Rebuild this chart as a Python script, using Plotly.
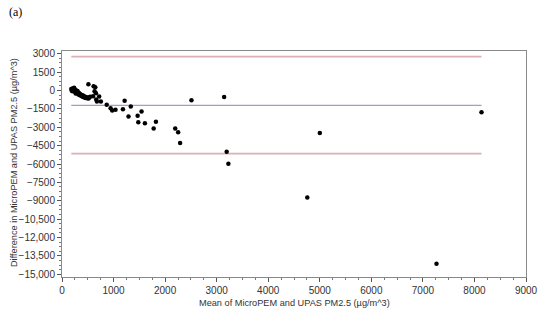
import plotly.graph_objects as go

# Bland-Altman data: mean of the two instruments vs difference
mean_vals = [180, 195, 205, 215, 225, 235, 245, 250, 260, 270, 280, 290, 300, 310, 320, 330,
             340, 350, 360, 370, 385, 400, 410, 420, 435, 450, 460, 475, 490, 500, 515, 530,
             545, 205, 190, 220, 265, 300, 240,
             512, 613, 645, 632, 659, 602, 664, 721, 678, 754, 867, 943, 974, 1038,
             1215, 1182, 1334, 1290, 1543, 1467, 1480, 1608, 1778, 1822, 2196, 2253, 2291,
             2511, 3145, 3194, 3227, 5001, 4758, 8137, 7264]
diff_vals = [120, 40, 170, -20, 90, 230, -60, 60, -120, 10, -180, -90, -250, -150, -320, -200,
             -380, -280, -420, -340, -480, -400, -530, -460, -580, -520, -620, -560, -640, -600, -660, -580,
             -520, -60, -20, 20, -250, -40, 130,
             513, 350, 269, -57, -220, -465, -742, -497, -905, -905, -1174, -1443, -1638, -1581,
             -848, -1524, -1312, -2127, -1720, -2070, -2584, -2665, -3105, -2560, -3105, -3400, -4295,
             -790, -540, -5004, -5982, -3480, -8729, -1769, -14132]

mean_diff = -1210
upper_loa = 2760
lower_loa = -5150

y_tick_vals = [3000, 1500, 0, -1500, -3000, -4500, -6000, -7500, -9000, -10500, -12000, -13500, -15000]
y_tick_text = ["3000", "1500", "0", "\u22121500", "\u22123000", "\u22124500", "\u22126000", "\u22127500",
               "\u22129000", "\u221210,500", "\u221212,000", "\u221213,500", "\u221215,000"]
x_tick_vals = [0, 1000, 2000, 3000, 4000, 5000, 6000, 7000, 8000, 9000]
x_tick_text = ["0", "1000", "2000", "3000", "4000", "5000", "6000", "7000", "8000", "9000"]

x_lo, x_hi = min(mean_vals), max(mean_vals)

fig = go.Figure()
fig.add_trace(go.Scatter(x=[x_lo, x_hi], y=[upper_loa, upper_loa], mode="lines",
                         line=dict(color="#dcb0b5", width=1.6), hoverinfo="skip"))
fig.add_trace(go.Scatter(x=[x_lo, x_hi], y=[lower_loa, lower_loa], mode="lines",
                         line=dict(color="#dcb0b5", width=1.6), hoverinfo="skip"))
fig.add_trace(go.Scatter(x=[x_lo, x_hi], y=[mean_diff, mean_diff], mode="lines",
                         line=dict(color="#9aa2c6", width=1.2), hoverinfo="skip"))
fig.add_trace(go.Scatter(x=mean_vals, y=diff_vals, mode="markers",
                         marker=dict(color="black", size=4.5)))

axis_font = dict(family="Liberation Sans, Arial, sans-serif", size=10, color="#333333")
title_font = dict(family="Liberation Sans, Arial, sans-serif", size=9.2, color="#333333")

fig.update_layout(
    width=550, height=321,
    margin=dict(l=62, r=14, t=51, b=44),
    paper_bgcolor="white", plot_bgcolor="white",
    showlegend=False,
    xaxis=dict(range=[0, 9000], tickvals=x_tick_vals, ticktext=x_tick_text,
               showgrid=False, zeroline=False, showline=True, linecolor="#8a8a8a", linewidth=1,
               mirror=True, ticks="outside", ticklen=4, tickcolor="#555555",
               minor=dict(dtick=250, ticks="outside", ticklen=2, tickcolor="#777777"),
               tickfont=axis_font),
    yaxis=dict(range=[-15220, 3220], tickvals=y_tick_vals, ticktext=y_tick_text,
               showgrid=False, zeroline=False, showline=True, linecolor="#8a8a8a", linewidth=1,
               mirror=True, ticks="outside", ticklen=4, tickcolor="#555555",
               minor=dict(tick0=0, dtick=375, ticks="outside", ticklen=2, tickcolor="#777777"),
               tickfont=axis_font),
    annotations=[
        dict(text="(a)", xref="paper", yref="paper", x=(6 - 62) / 474, y=(277 - 12) / 226,
             xanchor="left", yanchor="middle", showarrow=False,
             font=dict(family="Liberation Serif, Times New Roman, serif", size=12, color="black")),
        dict(text="Difference in MicroPEM and UPAS PM2.5 (\u00b5g/m^3)", xref="paper", yref="paper",
             x=(13 - 62) / 474, y=(277 - 163) / 226, textangle=-90, xanchor="center", yanchor="middle",
             showarrow=False, font=title_font),
        dict(text="Mean of MicroPEM and UPAS PM2.5 (\u00b5g/m^3)", xref="paper", yref="paper",
             x=0.5, y=(277 - 303) / 226, xanchor="center", yanchor="middle",
             showarrow=False, font=title_font),
    ],
)

fig.write_html("out.html", config={"displayModeBar": False},
               post_script="document.body.style.margin='0';document.body.style.overflow='hidden';")
